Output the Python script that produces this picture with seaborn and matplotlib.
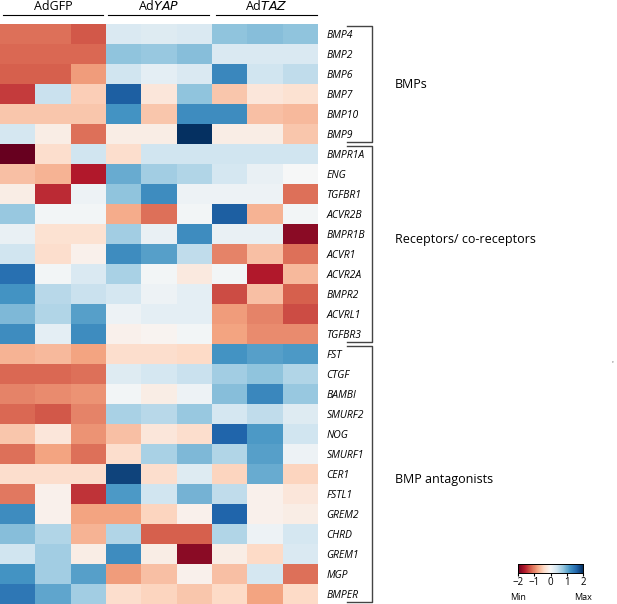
import numpy as np
import pandas as pd
import matplotlib as mpl
mpl.use('Agg')
import seaborn as sns
import matplotlib.pyplot as plt

genes = ['BMP4', 'BMP2', 'BMP6', 'BMP7', 'BMP10', 'BMP9',
         'BMPR1A', 'ENG', 'TGFBR1', 'ACVR2B', 'BMPR1B', 'ACVR1', 'ACVR2A',
         'BMPR2', 'ACVRL1', 'TGFBR3',
         'FST', 'CTGF', 'BAMBI', 'SMURF2', 'NOG', 'SMURF1', 'CER1', 'FSTL1',
         'GREM2', 'CHRD', 'GREM1', 'MGP', 'BMPER']
samples = ['GFP1', 'GFP2', 'GFP3', 'YAP1', 'YAP2', 'YAP3',
           'TAZ1', 'TAZ2', 'TAZ3']

# z-scores per gene
adgfp = [[-1.1, -1.1, -1.25], [-1.15, -1.15, -1.15], [-1.2, -1.2, -0.85],
         [-1.4, 0.45, -0.5], [-0.55, -0.55, -0.55], [0.35, -0.15, -1.1],
         [-2.0, -0.35, 0.4], [-0.6, -0.7, -1.6], [-0.15, -1.5, 0.1],
         [0.75, 0.05, 0.05], [0.15, -0.3, -0.3], [0.4, -0.35, -0.1],
         [1.5, 0.05, 0.3], [1.2, 0.55, 0.45], [0.9, 0.6, 1.1],
         [1.25, 0.2, 1.25], [-0.7, -0.65, -0.8], [-1.15, -1.15, -1.1],
         [-1.0, -0.95, -0.9], [-1.15, -1.25, -1.0], [-0.55, -0.25, -0.9],
         [-1.1, -0.8, -1.1], [-0.35, -0.35, -0.35], [-1.05, -0.1, -1.45],
         [1.25, -0.1, -0.8], [0.85, 0.6, -0.7], [0.4, 0.7, -0.15],
         [1.2, 0.7, 1.1], [1.45, 1.05, 0.7]]
adyap = [[0.3, 0.25, 0.3], [0.8, 0.75, 0.85], [0.4, 0.2, 0.3],
         [1.65, -0.25, 0.8], [1.2, -0.55, 1.25], [-0.15, -0.15, 2.0],
         [-0.35, 0.4, 0.4], [1.0, 0.7, 0.6], [0.8, 1.25, 0.1],
         [-0.75, -1.1, 0.05], [0.7, 0.15, 1.25], [1.25, 1.1, 0.5],
         [0.65, 0.05, -0.2], [0.35, 0.1, 0.2], [0.1, 0.2, 0.2],
         [-0.1, -0.05, 0.05], [-0.35, -0.35, -0.4], [0.25, 0.35, 0.45],
         [0.05, -0.15, 0.1], [0.65, 0.55, 0.75], [-0.6, -0.25, -0.35],
         [-0.35, 0.65, 0.9], [1.85, -0.35, 0.25], [1.15, 0.4, 0.95],
         [-0.8, -0.45, -0.1], [0.6, -1.2, -1.2], [1.25, -0.15, -1.8],
         [-0.85, -0.6, -0.1], [-0.35, -0.45, -0.55]]
adtaz = [[0.8, 0.85, 0.8], [0.3, 0.3, 0.3], [1.3, 0.4, 0.5],
         [-0.55, -0.25, -0.3], [1.25, -0.6, -0.65], [-0.15, -0.15, -0.55],
         [0.4, 0.4, 0.4], [0.35, 0.15, 0.0], [0.1, 0.1, -1.1],
         [1.65, -0.7, 0.05], [0.15, 0.15, -1.8], [-1.0, -0.6, -1.1],
         [0.05, -1.6, -0.65], [-1.3, -0.6, -1.2], [-0.85, -1.0, -1.3],
         [-0.8, -0.95, -0.95], [1.2, 1.1, 1.15], [0.7, 0.8, 0.6],
         [0.85, 1.3, 0.75], [0.35, 0.5, 0.25], [1.6, 1.15, 0.4],
         [0.6, 1.1, 0.1], [-0.45, 1.0, -0.45], [0.5, -0.1, -0.25],
         [1.6, -0.1, -0.15], [0.6, 0.1, 0.35], [-0.15, -0.4, 0.3],
         [-0.6, 0.35, -1.1], [-0.4, -0.8, -0.4]]

group_labels = ['AdGFP', 'Ad$\\it{YAP}$', 'Ad$\\it{TAZ}$']
families = ['BMPs', 'Receptors/ co-receptors', 'BMP antagonists']
family_rows = [(0, 6), (6, 16), (16, 29)]

expr_df = pd.DataFrame(np.hstack([adgfp, adyap, adtaz]),
                       index=genes, columns=samples)

plt.rcParams['font.family'] = ['Open Sans', 'DejaVu Sans']
fig = plt.figure(figsize=(6.17, 6.04), dpi=100)
W, H = 617., 604.
ax = fig.add_axes([0, 0, 318 / W, 580 / H])
cax = fig.add_axes([518 / W, (H - 573) / H, 65 / W, 9 / H])

sns.heatmap(expr_df, cmap='RdBu', vmin=-2, vmax=2, ax=ax, cbar_ax=cax,
            cbar_kws={'orientation': 'horizontal', 'ticks': [-2, -1, 0, 1, 2]},
            xticklabels=False, yticklabels=genes)

# gene labels on the right
ax.yaxis.tick_right()
ax.tick_params(axis='y', length=0, pad=6, labelsize=7.5)
for lab in ax.get_yticklabels():
    lab.set_fontstyle('italic')
    lab.set_rotation(0)
ax.set_xlabel('')
ax.set_ylabel('')

# pixel -> data helpers (heatmap starts 24 px from the top, rows are 20 px)
px = 9 / 318.
def py(y):
    return (y - 24) / 20.

# column headers
for i, lab in enumerate(group_labels):
    x0, x1 = [(3, 103), (108, 209), (216, 317)][i]
    ax.plot([x0 * px, x1 * px], [py(15), py(15)], color='black', lw=0.8,
            clip_on=False)
    ax.text((x0 + x1) / 2 * px, py(6), lab, ha='center', va='center',
            fontsize=9)

# family brackets
for fam, (r0, r1), ylab in zip(families, family_rows, [85, 240, 480]):
    top, bot = r0 + 0.08, r1 - 0.12
    xa, xb = 347 * px, 372 * px
    ax.plot([xa, xb, xb, xa], [top, top, bot, bot], color='#444444',
            lw=1.0, clip_on=False)
    ax.text(395 * px, py(ylab), fam, ha='left', va='center', fontsize=9)

ax.text(612 * px, py(364), "'", ha='center', va='center',
        fontsize=6, color='#555555')

cax.tick_params(labelsize=7, length=2, pad=1)
cax.text(0, -2.2, 'Min', transform=cax.transAxes, ha='center', va='top',
         fontsize=6.5)
cax.text(1, -2.2, 'Max', transform=cax.transAxes, ha='center', va='top',
         fontsize=6.5)
for sp in cax.spines.values():
    sp.set_visible(True)
    sp.set_linewidth(0.6)

fig.savefig('out.png', dpi=100)
